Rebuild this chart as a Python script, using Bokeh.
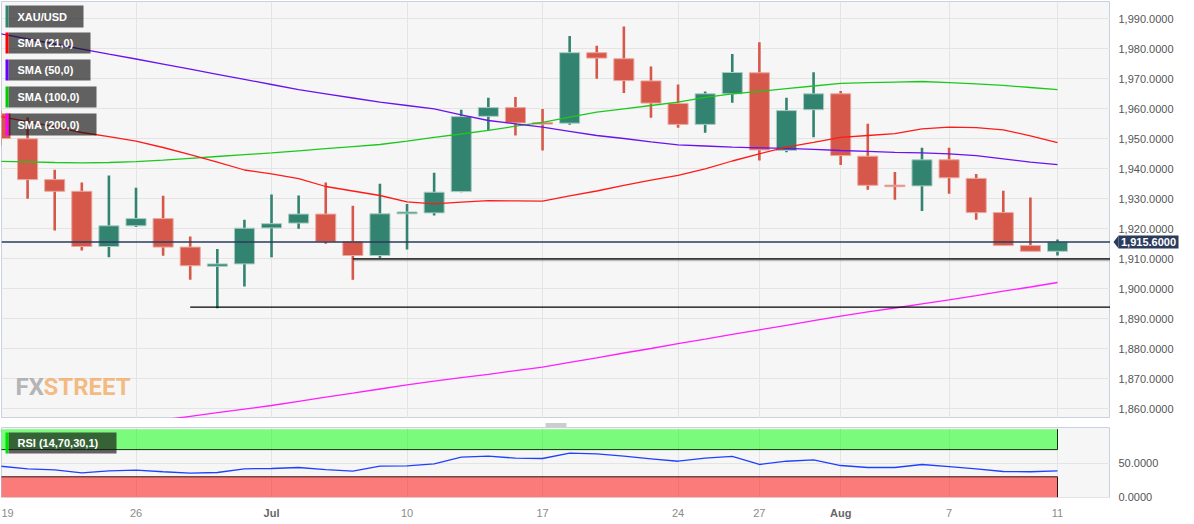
from bokeh.plotting import figure
from bokeh.models import (Range1d, FixedTicker, Span, Label, BoxAnnotation, ColumnDataSource)
from bokeh.layouts import column, row
from bokeh.embed import file_html
from bokeh.resources import INLINE
from bokeh.core.properties import value

# ---------------- data ----------------
tick_idx = [0, 5, 10, 15, 20, 25, 28, 31, 35, 39]
tick_text = ["19", "26", "Jul", "10", "17", "24", "27", "Aug", "7", "11"]
tick_bold = [False, False, True, False, False, False, False, True, False, False]

opens = [1958.4, 1950.0, 1936.4, 1932.5, 1914.1, 1921.0, 1923.4, 1913.9, 1907.5, 1908.3,
         1920.3, 1921.9, 1924.9, 1915.7, 1911.1, 1925.0, 1925.3, 1932.4, 1957.5, 1960.4,
         1955.4, 1955.2, 1978.7, 1976.7, 1969.3, 1961.8, 1954.8, 1965.0, 1972.0, 1946.1,
         1959.7, 1965.0, 1944.2, 1934.5, 1934.3, 1943.0, 1936.8, 1925.4, 1914.4, 1912.5]
highs = [1959.4, 1957.1, 1939.7, 1935.4, 1937.8, 1933.7, 1931.0, 1917.4, 1913.3, 1923.0,
         1931.4, 1931.1, 1935.4, 1927.7, 1935.0, 1928.3, 1938.7, 1959.7, 1963.7, 1963.9,
         1959.9, 1984.3, 1981.0, 1987.4, 1974.1, 1968.1, 1965.8, 1978.3, 1982.2, 1963.7,
         1972.2, 1965.9, 1955.0, 1938.9, 1947.0, 1947.0, 1938.3, 1932.7, 1930.4, 1916.4]
lows = [1947.8, 1930.0, 1919.4, 1912.8, 1910.5, 1920.6, 1911.0, 1903.0, 1893.5, 1900.8,
        1910.5, 1920.0, 1915.0, 1903.0, 1910.3, 1913.1, 1924.4, 1932.2, 1952.8, 1951.1,
        1946.1, 1954.7, 1970.0, 1965.3, 1957.0, 1953.7, 1952.0, 1962.0, 1942.8, 1945.5,
        1950.5, 1941.3, 1933.0, 1929.7, 1925.9, 1931.7, 1923.0, 1914.3, 1912.5, 1911.1]
closes = [1950.1, 1936.4, 1932.5, 1914.1, 1921.0, 1923.4, 1913.9, 1907.7, 1908.3, 1920.2,
          1921.7, 1924.9, 1915.7, 1911.1, 1925.0, 1925.6, 1932.2, 1957.4, 1960.4, 1955.3,
          1954.9, 1978.7, 1976.9, 1969.4, 1961.9, 1954.8, 1965.0, 1972.1, 1946.3, 1959.4,
          1965.0, 1944.4, 1934.5, 1934.1, 1943.0, 1937.0, 1925.4, 1914.4, 1912.5, 1915.6]

sma21 = [1957.4, 1955.7, 1954.0, 1952.1, 1950.7, 1949.2, 1947.1, 1944.7, 1942.2, 1939.6,
         1938.3, 1936.7, 1934.1, 1932.6, 1931.1, 1929.0, 1928.3, 1928.9, 1929.4, 1929.3,
         1929.2, 1931.0, 1932.6, 1934.5, 1936.2, 1937.8, 1940.0, 1942.6, 1945.0, 1947.2,
         1948.8, 1950.5, 1951.1, 1951.7, 1953.3, 1953.9, 1953.7, 1953.0, 1951.0, 1948.7]
sma50 = [1985.0, 1983.3, 1981.6, 1979.9, 1978.2, 1976.6, 1974.9, 1973.2, 1971.5, 1969.8,
         1968.1, 1966.4, 1965.0, 1963.6, 1962.2, 1961.1, 1960.0, 1958.0, 1956.1, 1955.0,
         1953.9, 1952.5, 1951.1, 1950.1, 1949.0, 1948.0, 1947.6, 1947.2, 1947.0, 1946.8,
         1946.5, 1946.1, 1945.8, 1945.5, 1945.3, 1945.0, 1944.4, 1943.3, 1942.2, 1941.4]
sma100 = [1942.5, 1942.3, 1942.1, 1942.0, 1942.1, 1942.4, 1942.9, 1943.5, 1944.1, 1944.7,
          1945.3, 1946.0, 1946.7, 1947.4, 1948.1, 1949.2, 1950.5, 1951.6, 1952.8, 1954.2,
          1955.5, 1957.2, 1958.9, 1960.0, 1961.1, 1962.2, 1963.8, 1965.0, 1965.8, 1966.7,
          1967.6, 1968.5, 1968.7, 1968.9, 1969.1, 1968.7, 1968.3, 1967.8, 1967.1, 1966.4]
sma200 = [1849.0, 1850.2, 1851.4, 1852.7, 1853.9, 1855.1, 1856.3, 1857.5, 1858.7, 1859.9,
          1861.1, 1862.5, 1863.9, 1865.2, 1866.6, 1868.0, 1869.2, 1870.4, 1871.5, 1872.7,
          1873.9, 1875.5, 1877.0, 1878.6, 1880.1, 1881.7, 1883.2, 1884.8, 1886.3, 1887.8,
          1889.4, 1890.9, 1892.3, 1893.6, 1895.0, 1896.3, 1897.7, 1899.2, 1900.6, 1902.1]
rsi = [45.6, 41.8, 40.3, 35.9, 38.8, 39.7, 37.4, 35.3, 36.3, 41.8,
       42.2, 43.7, 40.7, 38.2, 45.6, 46.2, 49.1, 58.8, 60.3, 57.4,
       56.9, 64.7, 63.8, 60.3, 56.5, 52.9, 57.4, 59.9, 48.1, 52.9,
       55.0, 46.6, 43.7, 43.7, 48.1, 45.1, 41.8, 37.8, 37.4, 38.8]

level_prices = [1910.0, 1893.9]
level_start = [13, 7]
rsi_bounds = [30, 70]
price_ticks = [1860, 1870, 1880, 1890, 1900, 1910, 1920, 1930, 1940, 1950, 1960, 1970, 1980, 1990]
rsi_ticks = [0, 50]

# ---------------- layout helpers (page pixel -> data) ----------------
S = 1057 / 39.0
def xd(px):
    return px / S
def ym(py):
    return 1990 - (py - 18.3) / 3.0
def yr(py):
    return (496.7 - py) / 0.68

FONT = "Liberation Sans"
RED = "#D5584A"
GRN = "#338371"
NAVY = "#2B3B5B"
GRID = "#E4E4E4"
OUTLINE = "#C9D0E0"
AXTXT = "#555555"

idx = list(range(len(closes)))
X_RANGE = Range1d(xd(1), xd(1110))


def plain(fig):
    fig.xgrid.visible = False
    fig.ygrid.visible = False
    return fig


# ---------------- main price figure ----------------
p = figure(frame_width=1109, frame_height=417,
           x_range=X_RANGE, y_range=Range1d(ym(418), ym(1)),
           x_axis_location=None, y_axis_location=None,
           output_backend="svg", toolbar_location=None,
           min_border_left=1, min_border_top=1, min_border_right=0, min_border_bottom=0,
           background_fill_color="#F6F6F6", border_fill_color="white",
           outline_line_color=OUTLINE)
p.xgrid.ticker = FixedTicker(ticks=tick_idx)
p.ygrid.ticker = FixedTicker(ticks=price_ticks)
p.xgrid.grid_line_color = GRID
p.ygrid.grid_line_color = GRID

# candles
body_top, body_bot, fill, edge = [], [], [], []
for o, c in zip(opens, closes):
    t, b = max(o, c), min(o, c)
    if t - b < 0.5:
        m = (t + b) / 2
        t, b = m + 0.25, m - 0.25
    body_top.append(t)
    body_bot.append(b)
    up = c >= o
    fill.append(GRN if up else RED)
    edge.append("#A9CCC3" if up else "#EBA89E")

src = ColumnDataSource(dict(x=idx, hi=highs, lo=lows, top=body_top, bot=body_bot,
                            fill=fill, edge=edge))
p.segment(x0="x", y0="lo", x1="x", y1="hi", source=src, line_color="fill", line_width=2.6)
p.vbar(x="x", width=0.74, top="top", bottom="bot", source=src,
       fill_color="fill", line_color="edge", line_width=1)

# moving averages
p.line(idx, sma200, line_color="#FF1FFF", line_width=1.3)
p.line(idx, sma100, line_color="#1DC81D", line_width=1.3)
p.line(idx, sma50, line_color="#6A12F0", line_width=1.3)
p.line(idx, sma21, line_color="#FF1A1A", line_width=1.3)

# horizontal levels
x_end = xd(1110) + 1
p.segment(x0=[level_start[0]], y0=[level_prices[0] - 0.45], x1=[x_end], y1=[level_prices[0] - 0.45],
          line_color="#8A8A8A", line_width=2.2, line_alpha=0.55)
p.segment(x0=level_start, y0=level_prices, x1=[x_end] * len(level_prices), y1=level_prices,
          line_color="#000000", line_width=1.2)

p.add_layout(Span(location=closes[-1], dimension="width", line_color=NAVY, line_width=1.3))

# watermark
p.add_layout(Label(x=xd(15), y=ym(386), text="FX", text_align="left", text_baseline="middle",
                   text_color="#A3A3A3", text_alpha=0.8, text_font="Roboto",
                   text_font_style="bold", text_font_size="24px"))
p.add_layout(Label(x=xd(43), y=ym(386), text="STREET", text_align="left", text_baseline="middle",
                   text_color="#F2A65A", text_alpha=0.75, text_font="Roboto",
                   text_font_style="bold", text_font_size="24px"))

# legend boxes
legend_items = [("XAU/USD", GRN, 5, 27, 83),
                ("SMA (21,0)", "#FF0000", 32, 53, 90),
                ("SMA (50,0)", "#6600FF", 59, 80, 90),
                ("SMA (100,0)", "#00CC00", 86, 107, 96),
                ("SMA (200,0)", "#FF00FF", 113, 135, 96)]
for text, col, y0, y1, xr in legend_items:
    p.add_layout(BoxAnnotation(left=xd(8), right=xd(xr), top=ym(y0), bottom=ym(y1),
                               fill_color="#111111", fill_alpha=0.65, line_color=None))
    p.add_layout(BoxAnnotation(left=xd(5), right=xd(8), top=ym(y0), bottom=ym(y1),
                               fill_color=col, fill_alpha=1.0, line_color=None))
    p.add_layout(Label(x=xd(17), y=ym((y0 + y1) / 2), text=text, text_align="left",
                       text_baseline="middle", text_color="white", text_font=FONT,
                       text_font_style="bold", text_font_size="11px"))

# ---------------- splitter strip between panels ----------------
h = plain(figure(frame_width=1109, frame_height=9,
                 x_range=Range1d(1, 1110), y_range=Range1d(427, 418),
                 x_axis_location=None, y_axis_location=None,
                 output_backend="svg", toolbar_location=None,
                 min_border_left=1, min_border_top=0, min_border_right=0, min_border_bottom=0,
                 background_fill_color="white", border_fill_color="white",
                 outline_line_color=None))
h.multi_line(xs=[[545, 566], [545, 566], [545, 566]], ys=[[420.5, 420.5], [422.5, 422.5], [424.5, 424.5]],
             line_color="#9A9A9A", line_width=1)

# ---------------- price labels column (right of main) ----------------
pl = plain(figure(frame_width=76, frame_height=417,
                  x_range=Range1d(0, 76), y_range=p.y_range,
                  x_axis_location=None, y_axis_location=None,
                  output_backend="svg", toolbar_location=None,
                  min_border_left=0, min_border_top=1, min_border_right=0, min_border_bottom=9,
                  background_fill_color="white", border_fill_color="white",
                  outline_line_color=None))
pl.text(x=[8] * len(price_ticks), y=price_ticks, text=[f"{v:,.4f}" for v in price_ticks],
        text_align="left", text_baseline="middle", text_font=value(FONT),
        text_font_size="11px", text_color=AXTXT)
half = 6.5 / 3.0
last = closes[-1]
pl.quad(left=[8], right=[68], top=[last + half], bottom=[last - half],
        fill_color=NAVY, line_color=None)
pl.patch(x=[3, 8, 8], y=[last, last + half, last - half], fill_color=NAVY, line_color=None)
pl.text(x=[10.5], y=[last], text=[f"{last:,.4f}"], text_align="left", text_baseline="middle",
        text_font=value(FONT), text_font_style="bold", text_font_size="11px", text_color="white")

# ---------------- RSI figure ----------------
r = figure(frame_width=1109, frame_height=71,
           x_range=X_RANGE, y_range=Range1d(yr(498), yr(427)),
           x_axis_location=None, y_axis_location=None,
           output_backend="svg", toolbar_location=None,
           min_border_left=1, min_border_top=0, min_border_right=0, min_border_bottom=0,
           background_fill_color="#F6F6F6", border_fill_color="white",
           outline_line_color=OUTLINE)
r.xgrid.ticker = FixedTicker(ticks=tick_idx)
r.ygrid.ticker = FixedTicker(ticks=rsi_ticks)
r.xgrid.grid_line_color = GRID
r.ygrid.grid_line_color = GRID

r.quad(left=[idx[0]], right=[idx[-1]], bottom=[rsi_bounds[1]], top=[100],
       fill_color="#00FF00", fill_alpha=0.5, line_color=None)
r.quad(left=[idx[0]], right=[idx[-1]], bottom=[0], top=[rsi_bounds[0]],
       fill_color="#FF0000", fill_alpha=0.5, line_color=None)
r.line([idx[0], idx[-1], idx[-1]], [rsi_bounds[1], rsi_bounds[1], 100],
       line_color="#113311", line_width=1)
r.line([idx[0], idx[-1], idx[-1]], [rsi_bounds[0], rsi_bounds[0], 0],
       line_color="#331111", line_width=1)
r.line(idx, rsi, line_color="#2040FF", line_width=1.3)

r.add_layout(BoxAnnotation(left=xd(8), right=xd(116), top=yr(432), bottom=yr(453),
                           fill_color="#111111", fill_alpha=0.65, line_color=None))
r.add_layout(BoxAnnotation(left=xd(5), right=xd(8), top=yr(432), bottom=yr(453),
                           fill_color="#00E000", fill_alpha=1.0, line_color=None))
r.add_layout(Label(x=xd(17), y=yr(442.5), text="RSI (14,70,30,1)", text_align="left",
                   text_baseline="middle", text_color="white", text_font=FONT,
                   text_font_style="bold", text_font_size="11px"))

# ---------------- RSI labels column ----------------
rl = plain(figure(frame_width=76, frame_height=95,
                  x_range=Range1d(0, 76), y_range=Range1d(yr(522), yr(427)),
                  x_axis_location=None, y_axis_location=None,
                  output_backend="svg", toolbar_location=None,
                  min_border_left=0, min_border_top=0, min_border_right=0, min_border_bottom=0,
                  background_fill_color="white", border_fill_color="white",
                  outline_line_color=None))
rl.text(x=[8] * len(rsi_ticks), y=rsi_ticks, text=[f"{v:,.4f}" for v in rsi_ticks],
        text_align="left", text_baseline="middle", text_font=value(FONT),
        text_font_size="11px", text_color=AXTXT)

# ---------------- date label strip ----------------
s = plain(figure(frame_width=1109, frame_height=24,
                 x_range=X_RANGE, y_range=Range1d(522, 498),
                 x_axis_location=None, y_axis_location=None,
                 output_backend="svg", toolbar_location=None,
                 min_border_left=1, min_border_top=0, min_border_right=0, min_border_bottom=0,
                 background_fill_color="white", border_fill_color="white",
                 outline_line_color=None))
lab_x = [xd(1) if t == 0 else t for t in tick_idx]
lab_align = ["left" if t == 0 else "center" for t in tick_idx]
lab_src = ColumnDataSource(dict(
    x=lab_x, y=[512] * len(tick_idx), text=tick_text, align=lab_align,
    style=["bold" if b else "normal" for b in tick_bold],
    color=["#666666" if b else "#8A8A8A" for b in tick_bold]))
s.text(x="x", y="y", text="text", source=lab_src, text_align="align", text_baseline="middle",
       text_font=value(FONT), text_font_size="11px", text_font_style="style",
       text_color="color")

layout = row(column(p, h, r, s), column(pl, rl))
open("out.html", "w").write(file_html(layout, INLINE))
